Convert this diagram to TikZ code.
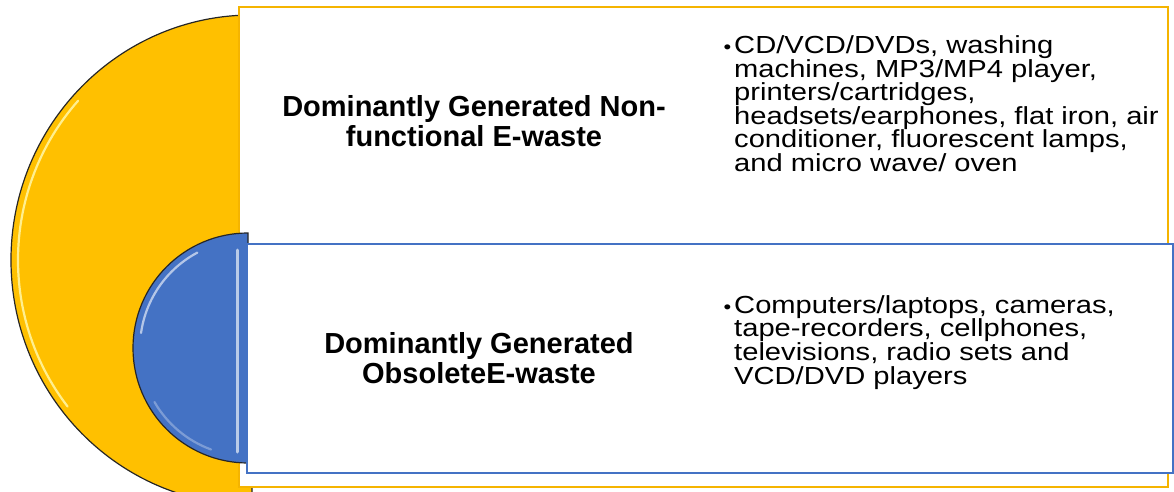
\documentclass[tikz,border=0pt]{standalone}
\usepackage{fontspec}
\setmainfont{Liberation Sans}
\newfontfamily\widesans[FakeStretch=1.18]{Liberation Sans}
\usetikzlibrary{positioning}
\definecolor{gold}{HTML}{FFC000}
\definecolor{goldedge}{HTML}{F5B400}
\definecolor{steel}{HTML}{4472C4}
\tikzset{
    % Half disks on the left, drawn with a dark rim
    half disk/.style={draw=black!85, line width=1.2pt},
%
    % Light bevel highlight on the half disks
    sheen/.style={line width=2.2pt, line cap=round, white, opacity=0.6},
%
    % The white text panels
    panel/.style={rectangle, fill=white, line width=1.6pt,
        inner sep=0, anchor=north west},
%
    % Bold heading inside a panel
    heading/.style={align=center, font=\bfseries\fontsize{29}{30}\selectfont},
%
    % Bullet list text inside a panel (anchored on its last baseline)
    items/.style={align=left, inner sep=0, anchor=base west,
        font=\widesans\fontsize{24.7}{23.6}\selectfont,
        execute at begin node={\lineskiplimit=-100pt}}}

\begin{document}
\begin{tikzpicture}[x=1pt, y=-1pt]

\useasboundingbox (0,0) rectangle (1174,492);

% Outer half disk
\begin{scope}
\clip (0,0) rectangle (1174,492);
\draw [half disk, fill=gold]
    (252,15) arc [start angle=270, end angle=90, x radius=241, y radius=245]
    -- cycle;
\draw [sheen, yellow!30, opacity=0.8]
    (252,260) ++(222:234 and 238)
    arc [start angle=222, end angle=142, x radius=234, y radius=238];
\end{scope}

\node [panel, draw=goldedge, minimum width=929pt, minimum height=480pt]
    (outer panel) at (238,6) {};

% Inner half disk
\draw [half disk, fill=steel]
    (248,233) arc [start angle=270, end angle=90, radius=115] -- cycle;
\draw [sheen]
    (248,348) ++(242:108) arc [start angle=242, end angle=188, radius=108];
\draw [sheen, opacity=0.3]
    (248,348) ++(150:108) arc [start angle=150, end angle=110, radius=108];
\draw [sheen, steel!30, opacity=0.9, line width=3pt] (237,250) -- (237,452);

\node [panel, draw=steel, minimum width=926pt, minimum height=229pt]
    (inner panel) at (246,243) {};

% Texts
\node [heading] (nonfunc) at (474,121)
    {Dominantly Generated Non-\\functional E-waste};
\node [heading] (obsolete) at (479,358)
    {Dominantly Generated\\ObsoleteE-waste};

\node [items] (nonfunc items) at (734,171.5)
    {\llap{\scalebox{0.75}{•}\hspace{3pt}}CD/VCD/DVDs, washing\\
     machines, MP3/MP4 player,\\
     printers/cartridges,\\
     headsets/earphones, flat iron, air\\
     conditioner, fluorescent lamps,\\
     and micro wave/ oven};
\node [items] (obsolete items) at (734,384)
    {\llap{\scalebox{0.75}{•}\hspace{3pt}}Computers/laptops, cameras,\\
     tape-recorders, cellphones,\\
     televisions, radio sets and\\
     VCD/DVD players};

\end{tikzpicture}
\end{document}
